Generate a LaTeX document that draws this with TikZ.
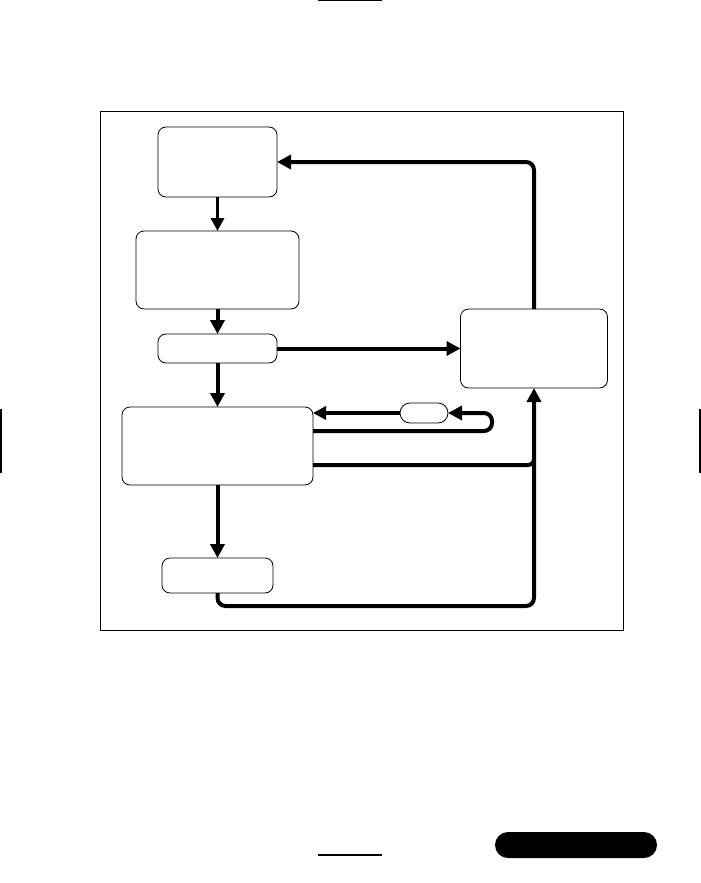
\documentclass[tikz,border=0pt]{standalone}
\usetikzlibrary{arrows.meta}
\begin{document}
\begin{tikzpicture}[x=1pt,y=-1pt,
  boxnode/.style={draw=black,line width=0.8pt,rounded corners=8pt,inner sep=0pt,outer sep=0pt,fill=white},
  pillnode/.style={draw=black,line width=0.8pt,rounded corners=10pt,inner sep=0pt,outer sep=0pt,fill=white},
  heavy/.style={line width=4pt,draw=black},
  conn/.style={heavy,-{Triangle[length=14pt,width=14pt]}},
  thinconn/.style={line width=3.2pt,draw=black,-{Triangle[length=13pt,width=13pt]}},
  framestyle/.style={draw=black,line width=1pt},
  markstyle/.style={draw=black,line width=2pt}]
\useasboundingbox (0,0) rectangle (701,883);
\fill[white] (0,0) rectangle (701,883);
% frame
\draw[framestyle] (100,111) rectangle (623,630);
% page marks
\draw[markstyle] (318,0.5) -- (382,0.5);
\draw[markstyle] (318,855) -- (382,855);
\draw[markstyle] (1,409) -- (1,473);
\draw[markstyle] (700,409) -- (700,473);
\fill[black,rounded corners=13pt] (495,832) rectangle (657,858);
% boxes
\node[boxnode,minimum width=119pt,minimum height=70pt] (b1) at (217.5,162) {};
\node[boxnode,minimum width=163pt,minimum height=78pt] (b2) at (217.5,270) {};
\node[boxnode,minimum width=119pt,minimum height=29pt] (b3) at (217.5,348.5) {};
\node[boxnode,minimum width=191pt,minimum height=78pt] (b4) at (217.5,446) {};
\node[boxnode,minimum width=147pt,minimum height=79pt] (b5) at (534,348.5) {};
\node[pillnode,minimum width=48pt,minimum height=20pt] (sm) at (424,413) {};
\node[boxnode,minimum width=111pt,minimum height=35pt] (b6) at (217.5,575.5) {};
% helper coordinates
\coordinate (p5) at (492,431);
\coordinate (p7) at (534,465);
\coordinate (p8) at (534,606);
% connectors
\draw[thinconn] (b1.south) -- (b2.north);
\draw[conn] (b2.south) -- (b3.north);
\draw[conn] (b3.south) -- (b4.north);
\draw[conn] (b3.east) -- (b5.west);
\draw[conn] (b4.south) -- (b6.north);
\draw[thinconn] (sm.west) -- (b4.east |- sm.west);
\draw[conn,rounded corners=8pt] (b4.east |- p5) -- (p5) -- (p5 |- sm.east) -- (sm.east);
\draw[heavy,rounded corners=6pt] (b4.east |- p7) -- (p7) -- ++(0,-6);
\draw[conn,rounded corners=8pt] (b6.south) -- (b6.south |- p8) -- (p8) -- (b5.south);
\draw[conn,rounded corners=8pt] (b5.north) -- (b5.north |- b1.east) -- (b1.east);
\end{tikzpicture}
\end{document}
